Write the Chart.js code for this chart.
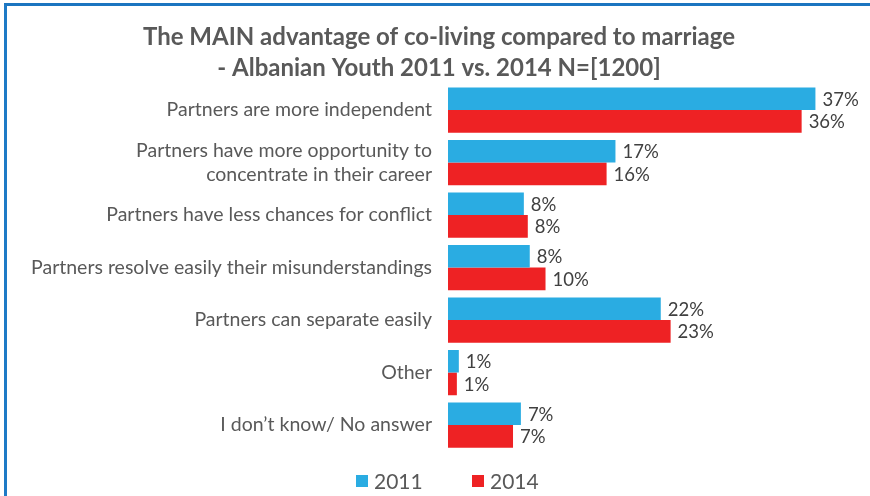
<!DOCTYPE html>
<html>
<head>
<meta charset="utf-8">
<script src="https://cdn.jsdelivr.net/npm/chart.js@4/dist/chart.umd.min.js"></script>
<style>
  html, body { margin: 0; padding: 0; background: #fff; }
  #wrap { position: relative; width: 870px; height: 496px; overflow: hidden; }
  #frame { position: absolute; left: 4px; top: 3px; width: 880px; height: 520px;
           border-top: 3px solid #1b75c0; border-left: 3px solid #1e7ac6; pointer-events: none; }
  canvas { position: absolute; left: 0; top: 0; }
</style>
</head>
<body>
<div id="wrap">
  <canvas id="c" width="870" height="496"></canvas>
  <div id="frame"></div>
</div>
<script>
const categories = [
  "Partners are more independent",
  ["Partners have more opportunity to", "concentrate in their career"],
  "Partners have less chances for conflict",
  "Partners resolve easily their misunderstandings",
  "Partners can separate easily",
  "Other",
  "I don\u2019t know/ No answer"
];
const seriesNames = ["2011", "2014"];
const values2011 = [37.3, 17.0, 7.7, 8.3, 21.6, 1.1, 7.4];
const values2014 = [35.9, 16.1, 8.1, 9.9, 22.6, 0.9, 6.6];
const seriesColors = ["#2aace2", "#ee2224"];
const titleLines = ["The MAIN advantage of co-living compared to marriage", "- Albanian Youth 2011 vs. 2014 N=[1200]"];

const FONT = "Lato, 'Open Sans', sans-serif";

const barLabels = {
  id: 'barLabels',
  afterDatasetsDraw(chart) {
    const ctx = chart.ctx;
    ctx.save();
    ctx.font = "18.5px " + FONT;
    ctx.fillStyle = "#404040";
    ctx.textAlign = "left";
    ctx.textBaseline = "middle";
    chart.data.datasets.forEach((ds, di) => {
      const meta = chart.getDatasetMeta(di);
      meta.data.forEach((el, i) => {
        ctx.fillText(Math.round(ds.data[i]) + "%", el.x + 7, el.y + 1);
      });
    });
    ctx.restore();
  }
};

const customLegend = {
  id: 'customLegend',
  afterDraw(chart) {
    const ctx = chart.ctx;
    ctx.save();
    ctx.font = "21px " + FONT;
    ctx.textBaseline = "middle";
    ctx.textAlign = "left";
    const y = 481;
    const starts = [356, 472];
    chart.data.datasets.forEach((ds, di) => {
      const x = starts[di];
      ctx.fillStyle = ds.backgroundColor;
      ctx.fillRect(x, y - 6, 12, 12);
      ctx.fillStyle = "#595959";
      ctx.fillText(ds.label, x + 18, y + 1);
    });
    ctx.restore();
  }
};

new Chart(document.getElementById('c'), {
  type: 'bar',
  data: {
    labels: categories,
    datasets: [
      { label: seriesNames[0], data: values2011, backgroundColor: seriesColors[0] },
      { label: seriesNames[1], data: values2014, backgroundColor: seriesColors[1] }
    ]
  },
  options: {
    indexAxis: 'y',
    responsive: false,
    animation: false,
    devicePixelRatio: 1,
    layout: { padding: { left: 8, right: 0, top: 8, bottom: 44.7 } },
    datasets: { bar: { categoryPercentage: 0.86, barPercentage: 1.0, borderWidth: 0 } },
    scales: {
      x: { display: false, min: 0, max: 42.84 },
      y: {
        grid: { display: false, drawTicks: false },
        border: { display: false },
        ticks: { color: "#595959", font: { family: FONT, size: 19.5, lineHeight: 1.25 }, padding: 16 },
        afterFit(scale) { scale.width = 440; }
      }
    },
    plugins: {
      legend: { display: false },
      tooltip: { enabled: false },
      title: {
        display: true,
        text: titleLines,
        color: "#595959",
        font: { family: FONT, size: 24, weight: 'bold', lineHeight: 1.3 },
        padding: { top: 13.4, bottom: 0 }
      }
    }
  },
  plugins: [barLabels, customLegend]
});
</script>
</body>
</html>
